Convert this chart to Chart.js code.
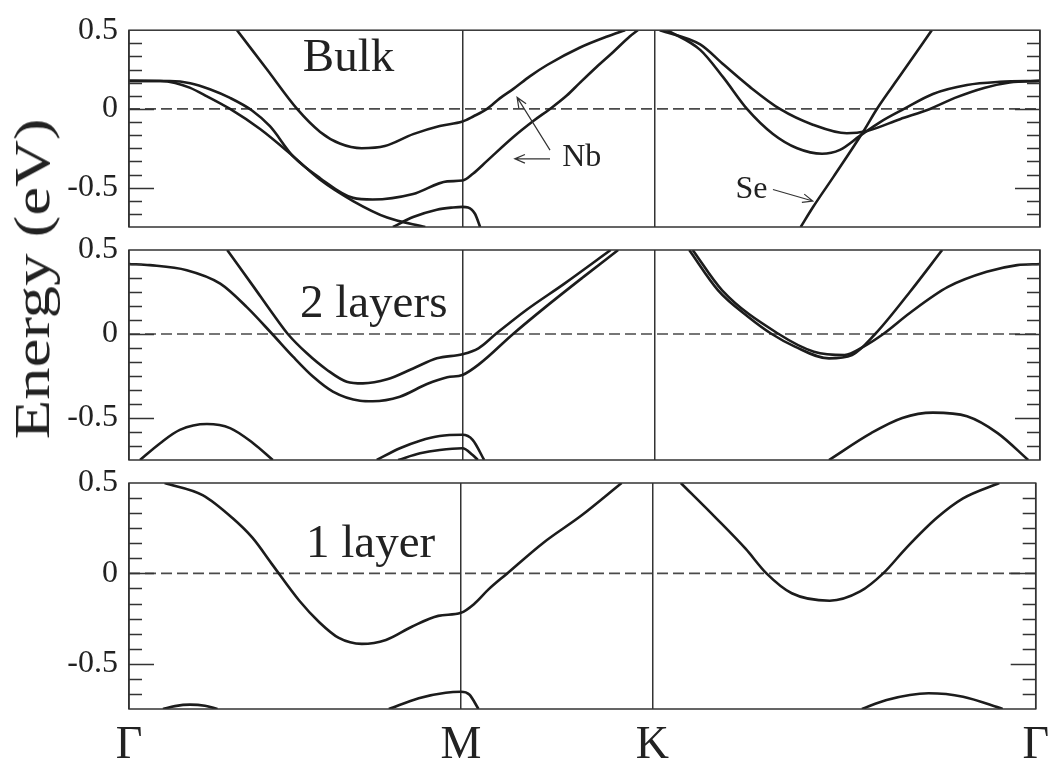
<!DOCTYPE html>
<html>
<head>
<meta charset="utf-8">
<script src="https://cdn.jsdelivr.net/npm/chart.js@4.4.0/dist/chart.umd.min.js"></script>
<style>
  html, body { margin: 0; padding: 0; background: #fff; }
  #wrap { position: relative; width: 1058px; height: 760px; overflow: hidden; }
  #wrap canvas { position: absolute; left: 0; top: 0; }
  #ylabel {
    position: absolute; left: 32px; top: 279px;
    font: 51px "Liberation Serif", serif; color: #222; white-space: nowrap;
    transform: translate(-50%, -50%) rotate(-90deg) scaleX(1.27);
  }
</style>
</head>
<body>
<div id="wrap">
  <canvas id="bulk" width="1058" height="760"></canvas>
  <canvas id="bilayer" width="1058" height="760"></canvas>
  <canvas id="monolayer" width="1058" height="760"></canvas>
  <div id="ylabel">Energy (eV)</div>
</div>
<script>
// k-path Γ–M–K–Γ (path length in units of 2π/a)
const kPoints = [0, 0.5774, 0.9107, 1.5774];
const kLabels = ['Γ', 'M', 'K', 'Γ'];
const energyTicks = [-0.5, 0, 0.5];

// bands as [k, E (eV)] pairs

// bulk
const bulkNbOuter = [[0.187,0.50],[0.239,0.25],[0.291,0.0],[0.331,-0.146],[0.365,-0.22],[0.403,-0.25],[0.443,-0.236],[0.492,-0.16],[0.538,-0.108],[0.5774,-0.08],[0.596,-0.048],[0.620,0.0],[0.642,0.067],[0.665,0.126],[0.694,0.207],[0.724,0.279],[0.781,0.39],[0.828,0.46],[0.859,0.50]];
const bulkNbInner = [[0,0.178],[0.071,0.177],[0.106,0.163],[0.140,0.125],[0.175,0.07],[0.213,-0.01],[0.244,-0.11],[0.284,-0.30],[0.331,-0.44],[0.388,-0.565],[0.422,-0.575],[0.492,-0.54],[0.551,-0.46],[0.5774,-0.455],[0.596,-0.41],[0.620,-0.33],[0.665,-0.18],[0.700,-0.077],[0.729,0.0],[0.758,0.085],[0.781,0.167],[0.810,0.268],[0.838,0.36],[0.867,0.46],[0.881,0.50]];
const bulkGammaLow = [[0,0.178],[0.054,0.177],[0.080,0.165],[0.105,0.135],[0.135,0.08],[0.175,0.0],[0.227,-0.128],[0.284,-0.30],[0.331,-0.45],[0.388,-0.585],[0.447,-0.69],[0.513,-0.75]];
const bulkNearM = [[0.457,-0.75],[0.492,-0.687],[0.533,-0.64],[0.561,-0.626],[0.5774,-0.622],[0.587,-0.626],[0.599,-0.666],[0.608,-0.75]];
const bulkKDeep = [[0.932,0.50],[0.989,0.375],[1.029,0.20],[1.070,0.0],[1.115,-0.159],[1.157,-0.25],[1.200,-0.285],[1.231,-0.26],[1.266,-0.17],[1.300,-0.085],[1.342,0.0],[1.392,0.095],[1.451,0.152],[1.508,0.172],[1.5774,0.178]];
const bulkKShallow = [[0.919,0.50],[0.989,0.41],[1.030,0.28],[1.075,0.14],[1.127,0.0],[1.184,-0.10],[1.243,-0.155],[1.278,-0.14],[1.335,-0.065],[1.387,0.0],[1.430,0.07],[1.482,0.135],[1.525,0.168],[1.5774,0.178]];
const bulkSe = [[1.163,-0.75],[1.185,-0.62],[1.220,-0.43],[1.272,-0.14],[1.295,0.0],[1.335,0.21],[1.390,0.50]];

// 2 layers
const biUpper = [[0.170,0.50],[0.215,0.285],[0.248,0.125],[0.275,0.0],[0.308,-0.115],[0.343,-0.214],[0.377,-0.284],[0.405,-0.294],[0.447,-0.27],[0.492,-0.205],[0.533,-0.145],[0.5774,-0.12],[0.605,-0.085],[0.635,0.0],[0.688,0.143],[0.754,0.30],[0.834,0.50]];
const biLower = [[0,0.417],[0.036,0.41],[0.100,0.38],[0.158,0.30],[0.204,0.16],[0.248,0.0],[0.284,-0.135],[0.319,-0.255],[0.353,-0.343],[0.400,-0.397],[0.422,-0.40],[0.469,-0.373],[0.516,-0.298],[0.551,-0.258],[0.5774,-0.244],[0.608,-0.175],[0.665,0.0],[0.721,0.16],[0.787,0.34],[0.847,0.50]];
const biDeepGamma = [[0.019,-0.75],[0.054,-0.65],[0.088,-0.571],[0.135,-0.536],[0.175,-0.56],[0.215,-0.65],[0.249,-0.75]];
const biNearM1 = [[0.429,-0.75],[0.469,-0.68],[0.504,-0.635],[0.538,-0.607],[0.5774,-0.60],[0.595,-0.63],[0.615,-0.75]];
const biNearM2 = [[0.466,-0.75],[0.504,-0.71],[0.538,-0.69],[0.5774,-0.68],[0.595,-0.72],[0.604,-0.75]];
const biK1 = [[0.970,0.50],[1.020,0.26],[1.073,0.10],[1.113,0.0],[1.153,-0.075],[1.212,-0.145],[1.252,-0.125],[1.292,0.0],[1.352,0.25],[1.408,0.50]];
const biK2 = [[0.976,0.50],[1.027,0.26],[1.125,0.0],[1.186,-0.105],[1.239,-0.125],[1.272,-0.075],[1.306,0.0],[1.352,0.125],[1.418,0.28],[1.485,0.37],[1.538,0.41],[1.5774,0.417]];
const biDeepK = [[1.212,-0.75],[1.285,-0.59],[1.339,-0.50],[1.392,-0.468],[1.451,-0.49],[1.504,-0.59],[1.557,-0.75]];

// 1 layer
const monoNb = [[0.062,0.50],[0.128,0.433],[0.180,0.306],[0.215,0.196],[0.249,0.05],[0.296,-0.15],[0.331,-0.27],[0.365,-0.357],[0.405,-0.39],[0.447,-0.368],[0.492,-0.295],[0.538,-0.235],[0.5774,-0.218],[0.600,-0.17],[0.625,-0.09],[0.658,0.0],[0.721,0.17],[0.787,0.32],[0.857,0.50]];
const monoNbK = [[0.960,0.50],[1.020,0.31],[1.073,0.135],[1.109,0.0],[1.153,-0.11],[1.219,-0.151],[1.272,-0.10],[1.312,0.0],[1.352,0.14],[1.405,0.306],[1.451,0.415],[1.514,0.50]];
const monoDeepGamma = [[0.059,-0.75],[0.080,-0.734],[0.106,-0.726],[0.132,-0.732],[0.154,-0.75]];
const monoNearM = [[0.452,-0.75],[0.504,-0.69],[0.551,-0.66],[0.5774,-0.655],[0.592,-0.67],[0.608,-0.75]];
const monoDeepK = [[1.275,-0.75],[1.318,-0.70],[1.391,-0.663],[1.451,-0.682],[1.520,-0.75]];

const serif = '"Liberation Serif", "Times New Roman", serif';
const ink = '#222';

// frame, inward ticks, panel title and arrow notes
const bandDecor = {
  id: 'bandDecor',
  afterDatasetsDraw(chart, args, opts) {
    const { ctx, chartArea: a, scales: { x, y } } = chart;
    ctx.save();
    ctx.strokeStyle = '#333';
    ctx.lineWidth = 1.5;
    ctx.strokeRect(a.left, a.top, a.right - a.left, a.bottom - a.top);

    // six divisions per 0.5 eV, long marks at labelled values
    ctx.beginPath();
    for (let k = -8; k <= 5; k++) {
      const py = Math.round(y.getPixelForValue(k / 12)) + 0.5;
      const len = k % 6 === 0 ? 25 : 13;
      ctx.moveTo(a.left, py); ctx.lineTo(a.left + len, py);
      ctx.moveTo(a.right, py); ctx.lineTo(a.right - len, py);
    }
    ctx.stroke();

    ctx.fillStyle = ink;
    ctx.textBaseline = 'alphabetic';
    ctx.font = '47px ' + serif;
    ctx.fillText(opts.title, x.getPixelForValue(opts.titleAt[0]), y.getPixelForValue(opts.titleAt[1]));

    ctx.font = '32px ' + serif;
    ctx.lineWidth = 1.2;
    ctx.strokeStyle = '#333';
    (opts.notes || []).forEach(n => {
      ctx.fillText(n.text, x.getPixelForValue(n.at[0]), y.getPixelForValue(n.at[1]));
      n.arrows.forEach(([x0, y0, x1, y1]) => {
        const ax = x.getPixelForValue(x0), ay = y.getPixelForValue(y0);
        const bx = x.getPixelForValue(x1), by = y.getPixelForValue(y1);
        const ang = Math.atan2(by - ay, bx - ax);
        ctx.beginPath();
        ctx.moveTo(ax, ay); ctx.lineTo(bx, by);
        ctx.moveTo(bx - 11 * Math.cos(ang - 0.4), by - 11 * Math.sin(ang - 0.4));
        ctx.lineTo(bx, by);
        ctx.lineTo(bx - 11 * Math.cos(ang + 0.4), by - 11 * Math.sin(ang + 0.4));
        ctx.stroke();
      });
    });
    ctx.restore();
  }
};

function bandPanel(id, bands, top, bottom, withAxis, decor) {
  const axisH = withAxis ? 50 : 0;
  const datasets = bands.map(b => ({
    data: b,
    borderColor: '#1c1c1c',
    borderWidth: 2.6,
    pointRadius: 0,
    fill: false,
    cubicInterpolationMode: 'monotone'
  }));
  // Fermi level
  datasets.push({
    data: [[kPoints[0], 0], [kPoints[3], 0]],
    borderColor: '#4a4a4a',
    borderWidth: 1.6,
    borderDash: [11, 5],
    pointRadius: 0
  });

  return new Chart(document.getElementById(id), {
    type: 'line',
    data: { datasets },
    options: {
      responsive: false,
      animation: false,
      devicePixelRatio: 1,
      events: [],
      layout: { padding: { top: top, bottom: 760 - bottom - axisH, left: 0, right: 18 } },
      plugins: {
        legend: { display: false },
        tooltip: { enabled: false },
        bandDecor: decor
      },
      scales: {
        x: {
          type: 'linear',
          min: kPoints[0],
          max: kPoints[3],
          afterBuildTicks: s => { s.ticks = kPoints.map(v => ({ value: v })); },
          afterFit: s => { s.height = axisH; },
          grid: { color: '#333', lineWidth: 1.5, drawTicks: false },
          border: { display: false },
          ticks: {
            display: withAxis,
            autoSkip: false,
            maxRotation: 0,
            padding: 9,
            color: ink,
            font: { family: serif, size: 46 },
            callback: (v, i) => kLabels[i]
          }
        },
        y: {
          min: -0.75,
          max: 0.5,
          afterBuildTicks: s => { s.ticks = energyTicks.map(v => ({ value: v })); },
          afterFit: s => { s.width = 129; },
          grid: { display: false, drawTicks: false },
          border: { display: false },
          ticks: {
            padding: 11,
            color: ink,
            font: { family: serif, size: 32 },
            callback: v => String(v)
          }
        }
      }
    },
    plugins: [bandDecor]
  });
}

bandPanel('bulk',
  [bulkNbOuter, bulkNbInner, bulkGammaLow, bulkNearM, bulkKDeep, bulkKShallow, bulkSe],
  22, 227, false,
  {
    title: 'Bulk', titleAt: [0.301, 0.238],
    notes: [
      { text: 'Nb', at: [0.750, -0.36], arrows: [[0.729, -0.262, 0.672, 0.073], [0.729, -0.317, 0.668, -0.317]] },
      { text: 'Se', at: [1.050, -0.567], arrows: [[1.115, -0.512, 1.184, -0.585]] }
    ]
  });

bandPanel('bilayer',
  [biUpper, biLower, biDeepGamma, biNearM1, biNearM2, biK1, biK2, biDeepK],
  250, 460, false,
  { title: '2 layers', titleAt: [0.296, 0.101] });

bandPanel('monolayer',
  [monoNb, monoNbK, monoDeepGamma, monoNearM, monoDeepK],
  483, 709, true,
  { title: '1 layer', titleAt: [0.308, 0.091] });
</script>
</body>
</html>
